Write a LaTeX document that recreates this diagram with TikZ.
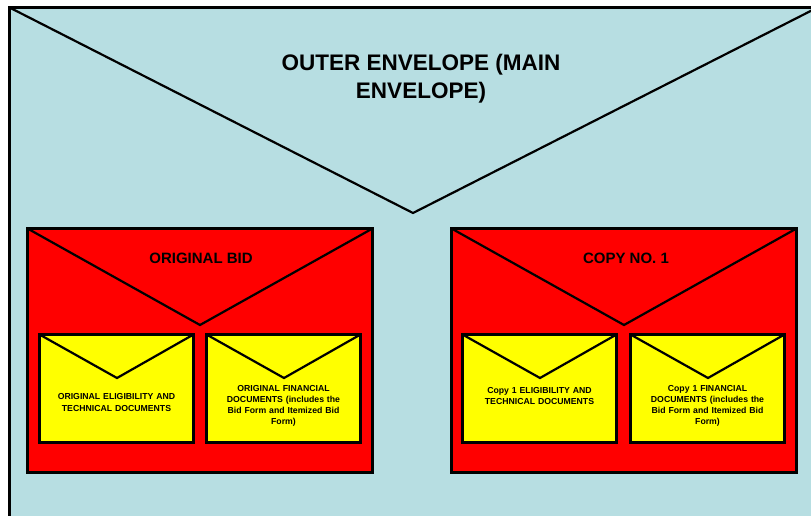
\documentclass[tikz,border=0pt]{standalone}
\usepackage{fontspec}
\setmainfont{Liberation Sans}
\usetikzlibrary{calc}
\definecolor{envblue}{RGB}{183,222,226}
\definecolor{envred}{RGB}{255,0,0}
\definecolor{envyellow}{RGB}{255,255,0}
\tikzset{
  box/.style={draw=black, line width=3pt, inner sep=0pt, outer sep=0pt},
  outerbox/.style={box, fill=envblue},
  redbox/.style={box, fill=envred, minimum width=345pt, minimum height=244pt},
  yelbox/.style={box, fill=envyellow, minimum width=154pt, minimum height=108pt},
  flap/.style={draw=black, line width=2.2pt, line join=miter},
  title/.style={font=\bfseries\fontsize{22.5}{28}\selectfont, align=center},
  label/.style={font=\bfseries\fontsize{15}{17}\selectfont},
  small/.style={font=\bfseries\fontsize{8.7}{11.2}\selectfont, align=center, text width=152pt}
}
\begin{document}
\begin{tikzpicture}[x=1pt,y=-1pt]
\useasboundingbox (0,0) rectangle (811,515);
\clip (0,0) rectangle (811,515);
% outer envelope
\node[outerbox, minimum width=808pt, minimum height=530pt, anchor=north west] (outer) at (9.5,7.5) {};
\coordinate (outerapex) at (413,213);
\draw[flap] (outer.north west) -- (outerapex) -- (outer.north east);
\node[title] (outertitle) at (421,79) {OUTER ENVELOPE (MAIN\\ENVELOPE)};
% original bid
\node[redbox, anchor=north west] (orig) at (27.5,228.5) {};
\coordinate (origapex) at (200,325);
\draw[flap] (orig.north west) -- (origapex) -- (orig.north east);
\node[label] (origlabel) at (201,258) {ORIGINAL BID};
\node[yelbox, anchor=north west] (o1) at (39.5,334.5) {};
\coordinate (o1apex) at (117,378);
\draw[flap] (o1.north west) -- (o1apex) -- (o1.north east);
\node[small] (o1text) at (116.5,402.5) {ORIGINAL ELIGIBILITY AND\\TECHNICAL DOCUMENTS};
\node[yelbox, anchor=north west] (o2) at (206.5,334.5) {};
\coordinate (o2apex) at (284,378);
\draw[flap] (o2.north west) -- (o2apex) -- (o2.north east);
\node[small] (o2text) at (283.5,406) {ORIGINAL FINANCIAL\\DOCUMENTS (includes the\\Bid Form and Itemized Bid\\Form)};
% copy 1
\node[redbox, anchor=north west] (copy) at (451.5,228.5) {};
\coordinate (copyapex) at (624,325);
\draw[flap] (copy.north west) -- (copyapex) -- (copy.north east);
\node[label] (copylabel) at (626,258) {COPY NO. 1};
\node[yelbox, anchor=north west] (c1) at (462.5,334.5) {};
\coordinate (c1apex) at (540,378);
\draw[flap] (c1.north west) -- (c1apex) -- (c1.north east);
\node[small] (c1text) at (539.5,396) {Copy 1 ELIGIBILITY AND\\TECHNICAL DOCUMENTS};
\node[yelbox, anchor=north west] (c2) at (630.5,334.5) {};
\coordinate (c2apex) at (708,378);
\draw[flap] (c2.north west) -- (c2apex) -- (c2.north east);
\node[small] (c2text) at (707.5,406) {Copy 1 FINANCIAL\\DOCUMENTS (includes the\\Bid Form and Itemized Bid\\Form)};
\end{tikzpicture}
\end{document}
